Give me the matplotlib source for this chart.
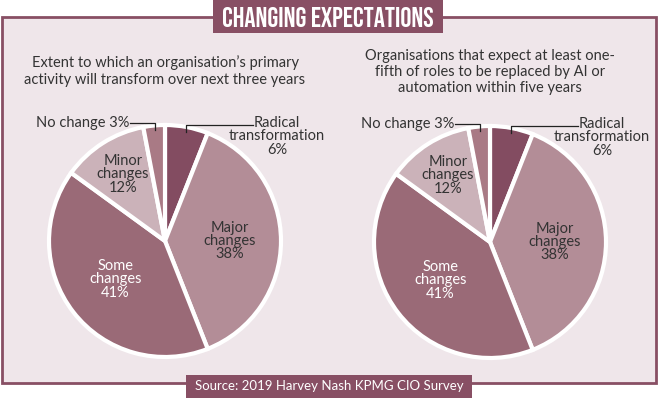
import numpy as np
import matplotlib.pyplot as plt
from matplotlib.patches import Rectangle
from matplotlib import font_manager

W, H = 659, 398

title = "CHANGING EXPECTATIONS"
source = "Source: 2019 Harvey Nash KPMG CIO Survey"
subtitles = [
    "Extent to which an organisation\u2019s primary\nactivity will transform over next three years",
    "Organisations that expect at least one-\nfifth of roles to be replaced by AI or\nautomation within five years",
]

categories = ["Radical transformation", "Major changes", "Some changes", "Minor changes", "No change"]
values_left = [6, 38, 41, 12, 3]
values_right = [6, 38, 41, 12, 3]

colors = ["#834c61", "#b38d97", "#9a6a77", "#cbb2b9", "#a97a85"]
label_colors = [None, "#333333", "white", "#333333", None]
label_radius = [None, 0.56, 0.54, 0.68, None]

maroon = "#884f64"
panel_bg = "#efe6ea"

names = {f.name for f in font_manager.fontManager.ttflist}
body_font = "Lato" if "Lato" in names else "DejaVu Sans"
title_font, title_size = body_font, 14
for fam, size in [("Bebas Neue", 20), ("Oswald", 15), ("Fjalla One", 15), ("Asap Condensed", 16)]:
    if fam in names:
        title_font, title_size = fam, size
        break


def Y(py):
    return H - py


fig = plt.figure(figsize=(W / 100, H / 100), dpi=100)
fig.patch.set_facecolor("white")
ax = fig.add_axes([0, 0, 1, 1])

# outer panel
ax.add_patch(Rectangle((2, Y(383)), 654, 366, facecolor=panel_bg, edgecolor=maroon, lw=2, zorder=0))

# title banner
ax.add_patch(Rectangle((213, Y(33)), 230, 34, facecolor=maroon, edgecolor="none", zorder=2))
ax.text(328, Y(17), title, color="white", fontsize=title_size, family=title_font,
        ha="center", va="center_baseline", zorder=3)

# source banner
ax.add_patch(Rectangle((186, Y(399)), 286, 24, facecolor=maroon, edgecolor="none", zorder=2))
ax.text(329, Y(386), source, color="white", fontsize=9.5, family=body_font,
        ha="center", va="center", zorder=3)

pies = [
    (165, 241, values_left, subtitles[0], 71),
    (490, 242, values_right, subtitles[1], 72),
]
R = 116

for cx, cy, vals, sub, sub_y in pies:
    ax.text(cx, Y(sub_y), sub, fontsize=10.5, family=body_font, color="#333333",
            ha="center", va="center", linespacing=1.22)

    wedges, _ = ax.pie(vals, colors=colors, startangle=90, counterclock=False,
                       center=(cx, Y(cy)), radius=R,
                       wedgeprops=dict(edgecolor="white", linewidth=3))

    for i, w in enumerate(wedges):
        mid = np.deg2rad((w.theta1 + w.theta2) / 2)
        pct = f"{vals[i]}%"
        if label_radius[i] is not None:
            words = categories[i].split(" ")
            lx = cx + label_radius[i] * R * np.cos(mid)
            ly = Y(cy) + label_radius[i] * R * np.sin(mid)
            ax.text(lx, ly, f"{words[0]}\n{words[1]}\n{pct}", fontsize=10.5, family=body_font,
                    color=label_colors[i], ha="center", va="center", linespacing=0.95)

    # leader for radical transformation (slice 0)
    w = wedges[0]
    mid = np.deg2rad((w.theta1 + w.theta2) / 2)
    px = cx + 0.96 * R * np.cos(mid)
    py = Y(cy) + 0.96 * R * np.sin(mid)
    ly = Y(cy - 116)
    ax.plot([px, px, px + 67], [py, ly, ly], color="#222222", lw=0.9)
    ax.text(cx + 112, Y(cy - 125), f"Radical\ntransformation\n{vals[0]}%",
            fontsize=10.5, family=body_font, color="#333333", ha="center", va="top",
            linespacing=0.95)

    # leader for no change (last slice)
    w = wedges[-1]
    mid = np.deg2rad((w.theta1 + w.theta2) / 2)
    px = cx + 0.96 * R * np.cos(mid)
    py = Y(cy) + 0.96 * R * np.sin(mid)
    ly = Y(cy - 118)
    ax.plot([px, px, cx - 35], [py, ly, ly], color="#222222", lw=0.9)
    ax.text(cx - 36, ly, f"No change {vals[-1]}%", fontsize=10.5, family=body_font,
            color="#333333", ha="right", va="center")

ax.set_xlim(0, W)
ax.set_ylim(0, H)
ax.set_aspect("equal")
ax.axis("off")

fig.savefig("out.png", dpi=100, facecolor="white")
